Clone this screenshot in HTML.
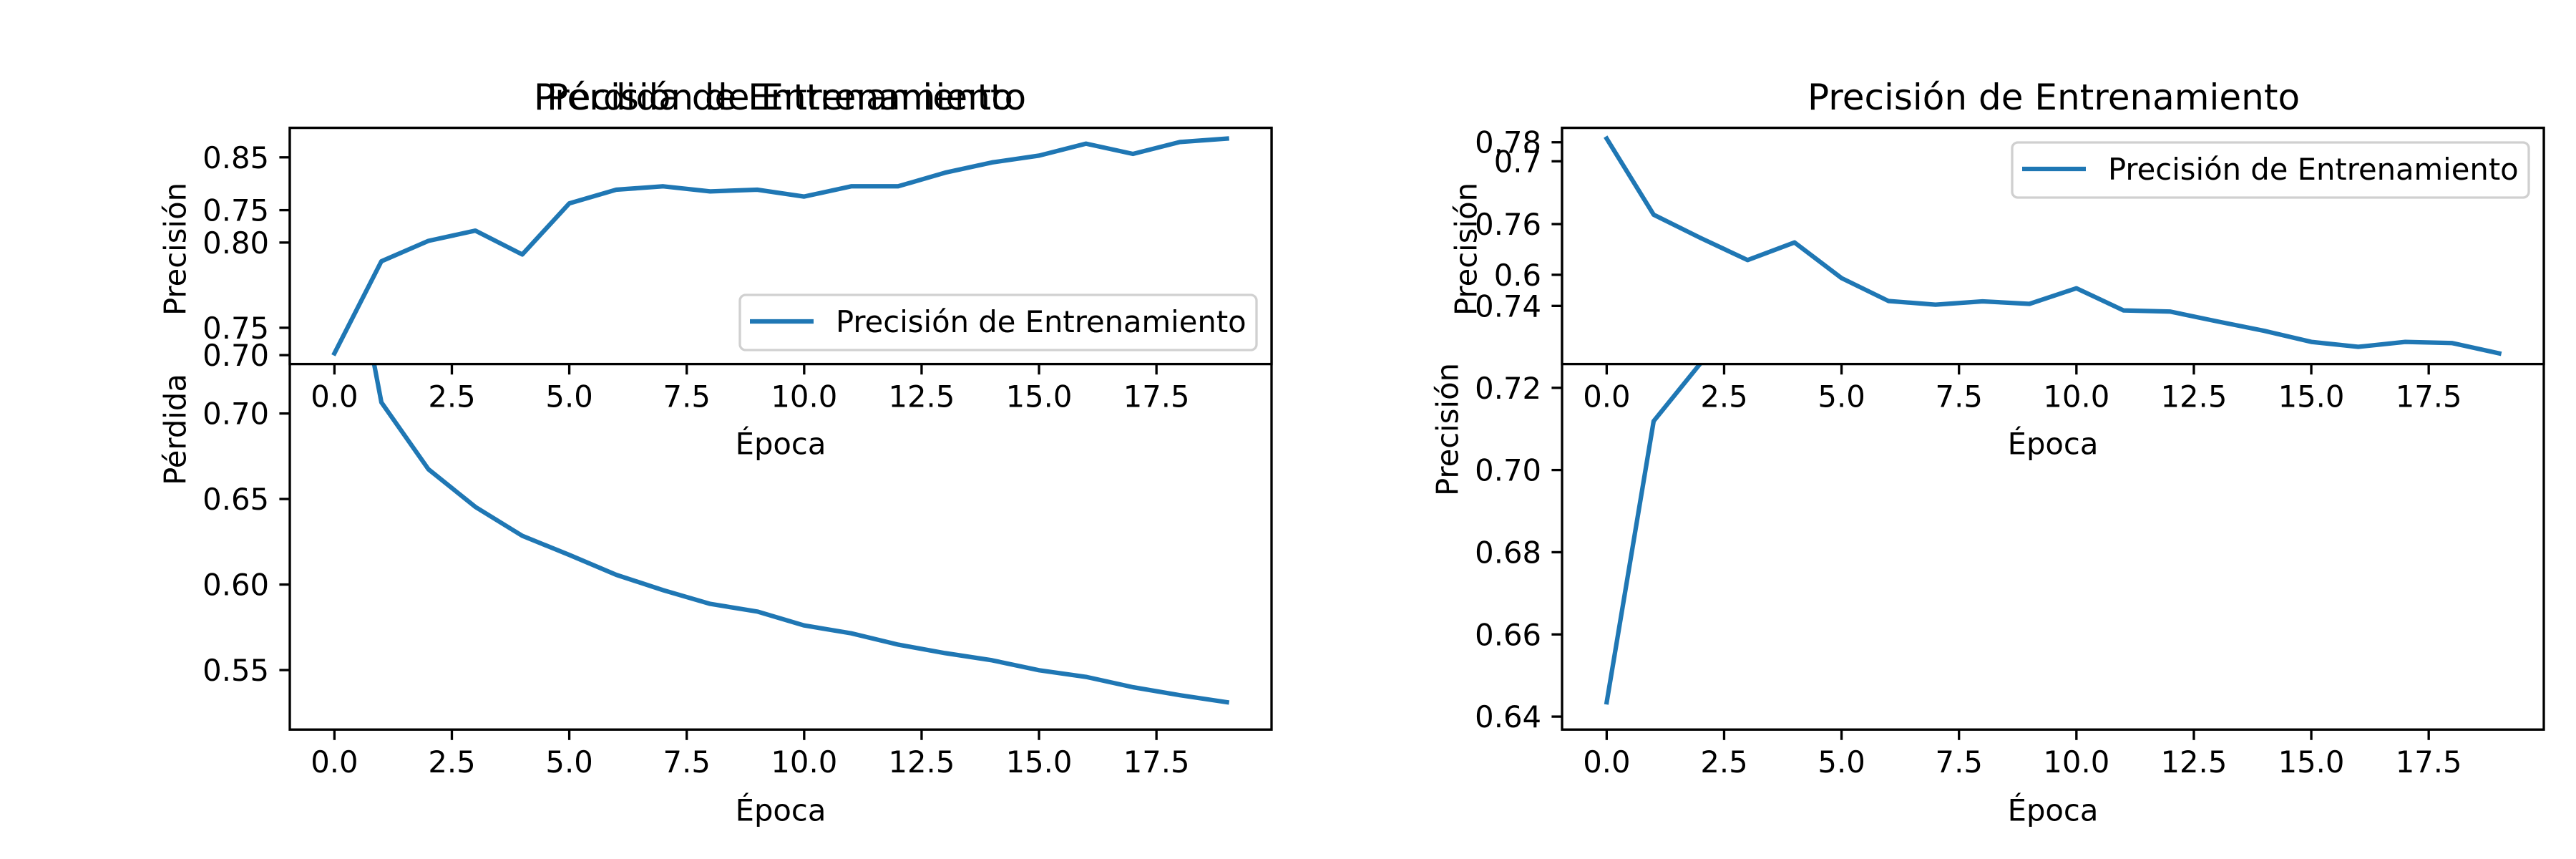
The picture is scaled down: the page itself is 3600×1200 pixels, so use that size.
<!DOCTYPE html>
<html><head><meta charset="utf-8">
<style>
html,body{margin:0;padding:0;background:#fff;}
svg{display:block;font-family:"DejaVu Sans","Liberation Sans",sans-serif;}
</style></head>
<body>
<svg id="fig" xmlns="http://www.w3.org/2000/svg" width="3600" height="1200" viewBox="0 0 3600 1200">
<rect x="0" y="0" width="3600" height="1200" fill="#fff"/>
</svg>
<script>
const epochs = [0,1,2,3,4,5,6,7,8,9,10,11,12,13,14,15,16,17,18,19];
const trainAcc = [0.735,0.789,0.801,0.807,0.793,0.823,0.831,0.833,0.830,0.831,0.827,0.833,0.833,0.841,0.847,0.851,0.858,0.852,0.859,0.861];
const trainLoss = [0.851,0.7065,0.6674,0.6454,0.6285,0.6173,0.6057,0.5967,0.5887,0.5842,0.5761,0.5715,0.5649,0.5599,0.5557,0.5499,0.5460,0.5400,0.5353,0.5312];
const valLoss = [0.7809,0.7623,0.7566,0.7512,0.7555,0.7468,0.7412,0.7403,0.7411,0.7405,0.7443,0.7389,0.7386,0.7362,0.7339,0.7312,0.7300,0.7312,0.7309,0.7284];
const valAcc = [0.6435,0.7119,0.726,0.735,0.742,0.748,0.752,0.756,0.759,0.762,0.764,0.766,0.768,0.770,0.771,0.773,0.774,0.775,0.776,0.7766];
const xTicks = [0,2.5,5,7.5,10,12.5,15,17.5];
const xTickLabels = ["0.0","2.5","5.0","7.5","10.0","12.5","15.0","17.5"];
const leftTopTicks = [0.75,0.80,0.85];
const leftTopTickLabels = ["0.75","0.80","0.85"];
const leftTopGhostTicks = [0.70,0.75];
const leftTopGhostLabels = ["0.70","0.75"];
const leftBottomTicks = [0.55,0.60,0.65,0.70];
const leftBottomTickLabels = ["0.55","0.60","0.65","0.70"];
const rightTopTicks = [0.74,0.76,0.78];
const rightTopTickLabels = ["0.74","0.76","0.78"];
const rightTopGhostTicks = [0.6,0.7];
const rightTopGhostLabels = ["0.6","0.7"];
const rightBottomTicks = [0.64,0.66,0.68,0.70,0.72];
const rightBottomTickLabels = ["0.64","0.66","0.68","0.70","0.72"];

const NS = "http://www.w3.org/2000/svg";
const svg = document.getElementById("fig");
const BLUE = "#1f77b4";
const FS = 41.7;
function el(tag, attrs, parent){
  const e = document.createElementNS(NS, tag);
  for (const k in attrs) e.setAttribute(k, attrs[k]);
  (parent||svg).appendChild(e);
  return e;
}
function txt(s, attrs, parent){ const t = el("text", attrs, parent); t.textContent = s; return t; }
function linScale(d0,d1,r0,r1){ return v => r0 + (v-d0)/(d1-d0)*(r1-r0); }
function limits(arr){ const mn=Math.min(...arr), mx=Math.max(...arr), m=(mx-mn)*0.05; return [mn-m, mx+m]; }

const TOP=178.6, MID=508.6, BOT=1019.2;
let clipId = 0;

function drawAxes(prefix, left, right, y0, y1, vals, ticks, labels, ghost, ghostLabels, ghostScale){
  const g = el("g", {});
  
  
  el("rect", {x:left, y:y0, width:right-left, height:y1-y0, fill:"#fff"}, g);
  const x = linScale(-0.95, 19.95, left, right);
  const [lo, hi] = limits(vals);
  const y = linScale(lo, hi, y1, y0);
  const cid = "clip" + (clipId++);
  const cp = el("clipPath", {id:cid}, g);
  el("rect", {x:left, y:y0, width:right-left, height:y1-y0}, cp);
  const d = vals.map((v,i)=>(i?"L":"M")+x(epochs[i]).toFixed(1)+","+y(v).toFixed(1)).join("");
  const line = el("path", {d:d, fill:"none", stroke:BLUE, "stroke-width":6.25, "stroke-linejoin":"round", "stroke-linecap":"square", "clip-path":"url(#"+cid+")"}, g);
  
  
  el("rect", {x:left, y:y0, width:right-left, height:y1-y0, fill:"none", stroke:"#000", "stroke-width":3.33}, g);
  ticks.forEach((t,i)=>{
    const yy = y(t);
    el("line", {x1:left, x2:left-14.6, y1:yy, y2:yy, stroke:"#000", "stroke-width":3.33}, g);
    const lab = txt(labels[i], {x:left-29, y:yy+15, "text-anchor":"end", "font-size":FS}, g);
    
    
  });
  if (ghost){
    ghost.forEach((t,i)=>{
      const yy = ghostScale(t);
      el("line", {x1:left, x2:left-14.6, y1:yy, y2:yy, stroke:"#000", "stroke-width":3.33}, g);
      const lab = txt(ghostLabels[i], {x:left-29, y:yy+15, "text-anchor":"end", "font-size":FS}, g);
      
      
    });
  }
  xTicks.forEach((t,i)=>{
    const xx = x(t);
    el("line", {x1:xx, x2:xx, y1:y1, y2:y1+14.6, stroke:"#000", "stroke-width":3.33}, g);
  });
  return {g, x};
}
function drawXLabels(prefix, x, y1){
  xTicks.forEach((t,i)=>{
    const lab = txt(xTickLabels[i], {x:x(t), y:y1+29+31, "text-anchor":"middle", "font-size":FS});
    
    
  });
}
function drawLegend(prefix, bx, by){
  const g = el("g", {});
  
  
  el("rect", {x:bx, y:by, width:722, height:77, rx:8, fill:"#fff", "fill-opacity":0.8, stroke:"#d0d0d0", "stroke-width":3.33}, g);
  el("line", {x1:bx+14, x2:bx+103, y1:by+37, y2:by+37, stroke:BLUE, "stroke-width":6.25}, g);
  txt("Precisión de Entrenamiento", {x:bx+134, y:by+52, "font-size":FS}, g);
}
function yLabel(s, cx, cy, name){
  const t = txt(s, {x:cx, y:cy, "text-anchor":"middle", "font-size":FS, transform:"rotate(-90 "+cx+" "+cy+")", "dominant-baseline":"central"});
  
  
}
function xLabel(cx, cy, name){
  const t = txt("Época", {x:cx, y:cy, "text-anchor":"middle", "font-size":FS, "dominant-baseline":"central"});
  
  
}

// LEFT
const LL=405, LR=1777;
const lb = drawAxes("loss", LL, LR, TOP, BOT, trainLoss, leftBottomTicks, leftBottomTickLabels);
drawXLabels("loss", lb.x, BOT);
xLabel((LL+LR)/2, 1132, "loss-x-axis-title");
yLabel("Pérdida", 245, 600, "loss-y-axis-title");
const lt = drawAxes("train-accuracy", LL, LR, TOP, MID, trainAcc, leftTopTicks, leftTopTickLabels,
  leftTopGhostTicks, leftTopGhostLabels, linScale(0.70, 0.75, 496.1, 293.6));
drawLegend("train-accuracy", 1034, 412);
drawXLabels("train-accuracy", lt.x, MID);
xLabel((LL+LR)/2, 620, "train-accuracy-x-axis-title");
yLabel("Precisión", 245, 348, "train-accuracy-y-axis-title");
const t1 = txt("Precisión de Entrenamiento", {x:1090, y:153, "text-anchor":"middle", "font-size":50});


const t2 = txt("Pérdida de Entrenamiento", {x:1090, y:153, "text-anchor":"middle", "font-size":50});



// RIGHT
const RL=2183, RR=3555;
const rb = drawAxes("val-accuracy", RL, RR, TOP, BOT, valAcc, rightBottomTicks, rightBottomTickLabels);
drawXLabels("val-accuracy", rb.x, BOT);
xLabel((RL+RR)/2, 1132, "val-accuracy-x-axis-title");
yLabel("Precisión", 2023, 600, "val-accuracy-y-axis-title");
const rt = drawAxes("val-loss", RL, RR, TOP, MID, valLoss, rightTopTicks, rightTopTickLabels,
  rightTopGhostTicks, rightTopGhostLabels, linScale(0.6, 0.7, 383.9, 225.3));
drawLegend("val-loss", 2812, 199);
drawXLabels("val-loss", rt.x, MID);
xLabel((RL+RR)/2, 620, "val-loss-x-axis-title");
yLabel("Precisión", 2049, 348, "val-loss-y-axis-title");
const t3 = txt("Precisión de Entrenamiento", {x:2870, y:153, "text-anchor":"middle", "font-size":50});


</script>
</body></html>
